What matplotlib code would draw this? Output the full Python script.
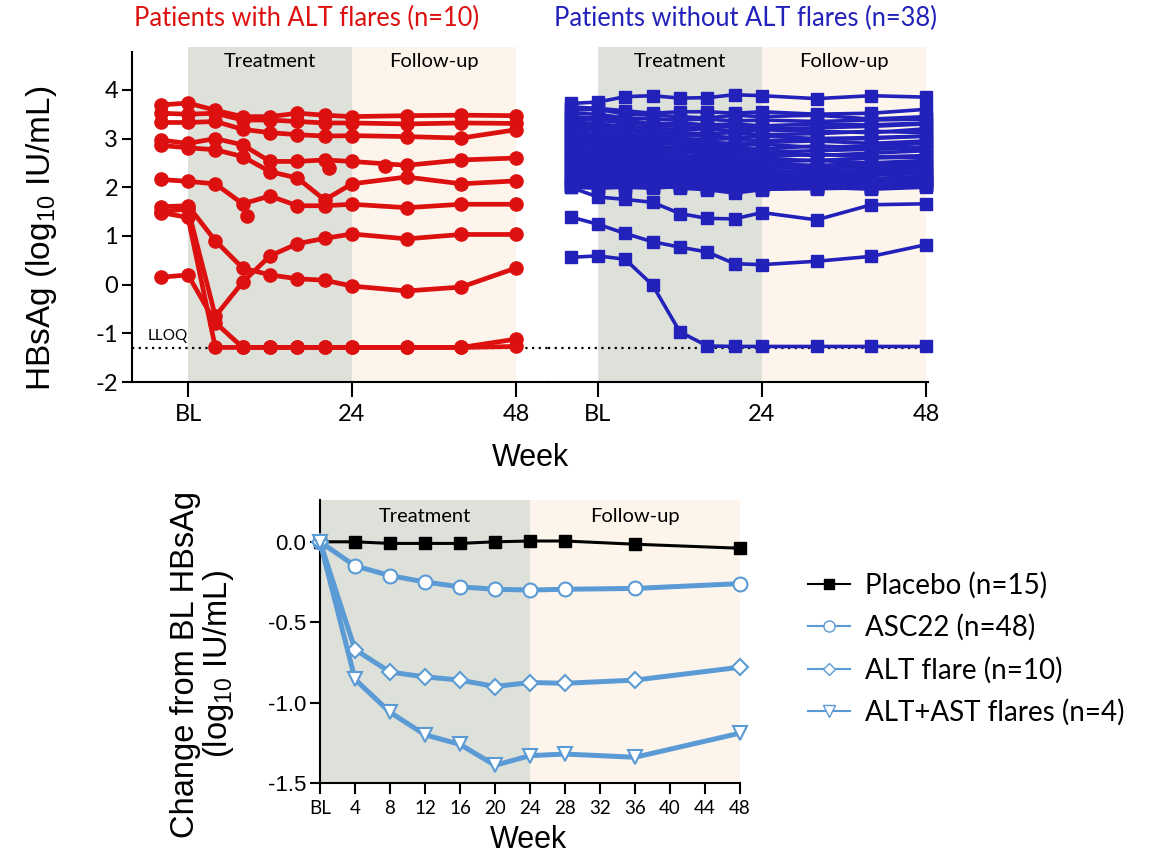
import matplotlib
matplotlib.use("Agg")
import matplotlib.pyplot as plt
from matplotlib.lines import Line2D

plt.rcParams['font.family'] = ['Lato', 'DejaVu Sans']
plt.rcParams['mathtext.fontset'] = 'custom'
plt.rcParams['mathtext.rm'] = 'Liberation Sans'
plt.rcParams['mathtext.it'] = 'Liberation Sans:italic'
plt.rcParams['axes.linewidth'] = 1.5
plt.rcParams['axes.unicode_minus'] = False

# ---- data: individual HBsAg (log10 IU/mL) ----
weeks = [-4, 0, 4, 8, 12, 16, 20, 24, 32, 40, 48]
week_ticks = [0, 24, 48]
week_tick_labels = ['BL', '24', '48']
lloq = -1.3

flare_patients = [
    [3.69, 3.73, 3.58, 3.45, 3.45, 3.52, 3.48, 3.45, 3.47, 3.48, 3.47],
    [3.52, 3.50, 3.52, 3.38, 3.38, 3.35, 3.32, 3.32, 3.30, 3.32, 3.31],
    [3.33, 3.33, 3.35, 3.19, 3.12, 3.08, 3.05, 3.06, 3.04, 3.01, 3.18],
    [2.97, 2.90, 3.00, 2.87, 2.53, 2.53, 2.56, 2.53, 2.45, 2.56, 2.60],
    [2.86, 2.81, 2.77, 2.63, 2.32, 2.19, 1.74, 2.07, 2.21, 2.07, 2.13],
    [2.16, 2.12, 2.07, 1.66, 1.82, 1.62, 1.62, 1.65, 1.58, 1.65, 1.65],
    [1.60, 1.62, 0.90, 0.34, 0.20, 0.12, 0.09, -0.03, -0.13, -0.05, 0.34],
    [1.50, 1.55, -0.65, 0.05, 0.59, 0.84, 0.95, 1.04, 0.94, 1.03, 1.03],
    [1.48, 1.38, -1.29, -1.29, -1.29, -1.29, -1.29, -1.29, -1.29, -1.29, -1.27],
    [0.15, 0.20, -0.78, -1.29, -1.29, -1.29, -1.29, -1.29, -1.29, -1.29, -1.12],
]
# unscheduled single visits
flare_extra_weeks = [8.7, 20.6, 28.8]
flare_extra_values = [1.41, 2.40, 2.43]

nonflare_patients = [
    [3.72, 3.75, 3.86, 3.88, 3.83, 3.84, 3.90, 3.88, 3.82, 3.88, 3.85],
    [3.65, 3.62, 3.57, 3.52, 3.55, 3.55, 3.52, 3.55, 3.50, 3.52, 3.60],
    [3.58, 3.60, 3.50, 3.48, 3.45, 3.42, 3.48, 3.45, 3.48, 3.40, 3.45],
    [3.52, 3.50, 3.42, 3.40, 3.38, 3.40, 3.36, 3.38, 3.35, 3.38, 3.40],
    [3.45, 3.42, 3.38, 3.30, 3.32, 3.28, 3.30, 3.26, 3.30, 3.28, 3.32],
    [3.40, 3.38, 3.32, 3.28, 3.25, 3.22, 3.25, 3.20, 3.22, 3.25, 3.30],
    [3.35, 3.30, 3.25, 3.22, 3.18, 3.20, 3.15, 3.18, 3.15, 3.12, 3.20],
    [3.30, 3.28, 3.20, 3.15, 3.12, 3.10, 3.12, 3.08, 3.10, 3.15, 3.12],
    [3.25, 3.22, 3.18, 3.10, 3.08, 3.05, 3.02, 3.05, 3.00, 3.02, 3.05],
    [3.20, 3.18, 3.10, 3.05, 3.00, 2.98, 3.00, 2.95, 2.98, 3.00, 3.05],
    [3.15, 3.10, 3.05, 3.00, 2.95, 2.92, 2.90, 2.92, 2.95, 2.90, 2.95],
    [3.10, 3.08, 3.00, 2.95, 2.90, 2.88, 2.85, 2.88, 2.82, 2.85, 2.90],
    [3.05, 3.02, 2.95, 2.90, 2.88, 2.82, 2.80, 2.78, 2.85, 2.80, 2.82],
    [3.00, 2.98, 2.92, 2.85, 2.80, 2.78, 2.75, 2.72, 2.75, 2.78, 2.80],
    [2.95, 2.92, 2.88, 2.80, 2.75, 2.72, 2.70, 2.70, 2.65, 2.70, 2.75],
    [2.90, 2.88, 2.82, 2.75, 2.72, 2.68, 2.65, 2.62, 2.68, 2.62, 2.65],
    [2.85, 2.82, 2.78, 2.70, 2.65, 2.62, 2.60, 2.58, 2.55, 2.60, 2.62],
    [2.80, 2.78, 2.72, 2.68, 2.62, 2.58, 2.55, 2.52, 2.55, 2.50, 2.55],
    [2.75, 2.72, 2.68, 2.62, 2.58, 2.52, 2.50, 2.48, 2.45, 2.48, 2.50],
    [2.70, 2.68, 2.62, 2.58, 2.52, 2.48, 2.45, 2.42, 2.40, 2.42, 2.45],
    [2.65, 2.62, 2.58, 2.52, 2.48, 2.45, 2.40, 2.38, 2.42, 2.38, 2.40],
    [2.60, 2.58, 2.52, 2.48, 2.42, 2.40, 2.38, 2.32, 2.35, 2.32, 2.38],
    [2.55, 2.52, 2.48, 2.42, 2.38, 2.35, 2.32, 2.30, 2.28, 2.30, 2.32],
    [2.50, 2.48, 2.42, 2.38, 2.35, 2.30, 2.28, 2.25, 2.22, 2.25, 2.28],
    [2.45, 2.42, 2.40, 2.35, 2.30, 2.28, 2.25, 2.22, 2.20, 2.18, 2.22],
    [2.40, 2.38, 2.35, 2.30, 2.28, 2.25, 2.22, 2.20, 2.18, 2.15, 2.20],
    [2.35, 2.32, 2.30, 2.28, 2.25, 2.20, 2.18, 2.15, 2.12, 2.10, 2.15],
    [2.30, 2.28, 2.25, 2.22, 2.20, 2.18, 2.15, 2.12, 2.10, 2.08, 2.12],
    [2.25, 2.22, 2.20, 2.18, 2.15, 2.12, 2.10, 2.08, 2.05, 2.05, 2.08],
    [2.20, 2.18, 2.15, 2.12, 2.10, 2.08, 2.05, 2.02, 2.02, 2.00, 2.05],
    [2.15, 2.12, 2.10, 2.08, 2.05, 2.02, 2.00, 2.00, 1.98, 1.98, 2.02],
    [2.10, 2.08, 2.05, 2.02, 2.00, 1.98, 1.95, 1.98, 2.00, 1.96, 2.00],
    [2.05, 2.02, 2.00, 1.98, 2.02, 2.00, 1.98, 2.02, 1.98, 2.00, 2.25],
    [2.00, 1.98, 2.00, 2.05, 1.98, 1.95, 1.88, 1.95, 2.00, 2.02, 2.05],
    [2.02, 2.00, 2.05, 2.00, 2.05, 1.98, 2.00, 1.96, 1.97, 1.99, 2.10],
    [2.00, 1.80, 1.75, 1.69, 1.46, 1.36, 1.35, 1.48, 1.33, 1.64, 1.66],
    [1.39, 1.24, 1.05, 0.88, 0.77, 0.67, 0.43, 0.41, 0.48, 0.58, 0.82],
    [0.56, 0.59, 0.52, -0.01, -0.97, -1.26, -1.27, -1.27, -1.27, -1.27, -1.27],
]

# ---- data: mean change from baseline ----
change_weeks = [0, 4, 8, 12, 16, 20, 24, 28, 36, 48]
change_ticks = [0, 4, 8, 12, 16, 20, 24, 28, 32, 36, 40, 44, 48]
change_tick_labels = ['BL'] + [str(w) for w in change_ticks[1:]]
placebo = [0, 0.0, -0.01, -0.01, -0.01, 0.0, 0.005, 0.005, -0.015, -0.04]
asc22 = [0, -0.15, -0.21, -0.25, -0.28, -0.295, -0.30, -0.295, -0.29, -0.26]
alt_flare = [0, -0.67, -0.81, -0.84, -0.86, -0.90, -0.875, -0.88, -0.86, -0.78]
alt_ast_flare = [0, -0.855, -1.06, -1.20, -1.26, -1.39, -1.33, -1.32, -1.34, -1.19]

red = '#dd1010'
blue = '#2222bb'
lblue = '#5b9bd5'
treat_col = '#dee0da'
follow_col = '#fdf5eb'
arial = 'Liberation Sans'

W, H = 1160, 855
fig = plt.figure(figsize=(W / 100, H / 100), dpi=100)

ax1 = fig.add_axes([132 / W, 1 - 382 / H, 416 / W, 335 / H])
ax2 = fig.add_axes([548 / W, 1 - 382 / H, 380 / W, 335 / H])
ax3 = fig.add_axes([320 / W, 1 - 783 / H, 420 / W, 283 / H])

for ax in (ax1, ax2):
    ax.patch.set_visible(False)
    ax.axvspan(0, 24, color=treat_col, lw=0, zorder=0)
    ax.axvspan(24, 48, color=follow_col, lw=0, zorder=0)
    ax.axhline(lloq, color='black', lw=1.6, ls=(0, (1, 2)), zorder=1)
    ax.set_ylim(-2, 4.88)
    ax.set_xticks(week_ticks)
    ax.set_xticklabels(week_tick_labels, fontsize=17)
    ax.tick_params(axis='x', length=11, width=1.5, pad=5)
    ax.text(12, 4.58, 'Treatment', ha='center', va='center', fontsize=14.5)
    ax.text(36, 4.58, 'Follow-up', ha='center', va='center', fontsize=14.5)
    for s in ('top', 'right'):
        ax.spines[s].set_visible(False)

ax1.set_xlim(-8.2, 52.7)
ax2.set_xlim(-7.3, 48.3)
ax1.set_yticks([-2, -1, 0, 1, 2, 3, 4])
ax1.tick_params(axis='y', length=7, width=1.5, pad=3, labelsize=17)
ax1.spines['left'].set_bounds(-2, 4.78)
ax2.spines['left'].set_visible(False)
ax2.set_yticks([])
ax1.text(-3.0, -1.06, 'LLOQ', ha='center', va='center', fontsize=11)

for p in flare_patients:
    ax1.plot(weeks, p, color=red, lw=3.4, marker='o', ms=9.5, zorder=3)
ax1.plot(flare_extra_weeks, flare_extra_values, ls='none', color=red,
         marker='o', ms=9.5, zorder=3)

for p in nonflare_patients:
    ax2.plot(weeks, p, color=blue, lw=2.6, marker='s', ms=8.8, zorder=3,
             clip_on=False)

fig.text(307 / W, 1 - 18 / H, 'Patients with ALT flares (n=10)', color=red,
         ha='center', va='center', fontsize=18.4)
fig.text(746 / W, 1 - 18 / H, 'Patients without ALT flares (n=38)', color=blue,
         ha='center', va='center', fontsize=18.4)
fig.text(42 / W, 1 - 238 / H, r'HBsAg (log$_{10}$ IU/mL)', rotation=90,
         ha='center', va='center', fontsize=24, family=arial)
fig.text(530 / W, 1 - 458 / H, 'Week', ha='center', va='center',
         fontsize=22, family=arial)

# ---- bottom panel ----
ax3.axvspan(0, 24, color=treat_col, lw=0, zorder=0)
ax3.axvspan(24, 48, color=follow_col, lw=0, zorder=0)
ax3.set_xlim(0, 48)
ax3.set_ylim(-1.5, 0.26)
for s in ('top', 'right'):
    ax3.spines[s].set_visible(False)
ax3.set_xticks(change_ticks)
ax3.set_xticklabels(change_tick_labels, fontsize=13.5)
ax3.set_yticks([0, -0.5, -1.0, -1.5])
ax3.set_yticklabels(['0.0', '-0.5', '-1.0', '-1.5'], fontsize=16, family=arial)
ax3.tick_params(axis='x', length=8, width=1.5, pad=4)
ax3.tick_params(axis='y', length=7, width=1.5, pad=3)
ax3.text(12, 0.16, 'Treatment', ha='center', va='center', fontsize=14.5)
ax3.text(36, 0.155, 'Follow-up', ha='center', va='center', fontsize=14.5)

ax3.plot(change_weeks, placebo, color='black', lw=2.2, marker='s', ms=9,
         clip_on=False, zorder=3)
ax3.plot(change_weeks, asc22, color=lblue, lw=3.6, marker='o', ms=10,
         mfc='white', mew=1.5, clip_on=False, zorder=4)
ax3.plot(change_weeks, alt_flare, color=lblue, lw=3.6, marker='D', ms=8.5,
         mfc='white', mew=1.5, clip_on=False, zorder=4)
ax3.plot(change_weeks, alt_ast_flare, color=lblue, lw=3.6, marker='v', ms=10,
         mfc='white', mew=1.5, clip_on=False, zorder=4)

fig.text(203 / W, 1 - 664 / H, 'Change from BL HBsAg\n(log$_{10}$ IU/mL)',
         rotation=90, ha='center', va='center', multialignment='center',
         fontsize=23.5, family=arial, linespacing=0.97)
fig.text(528 / W, 1 - 840 / H, 'Week', ha='center', va='center',
         fontsize=22, family=arial)

handles = [
    Line2D([0], [0], color='black', lw=1.5, marker='s', ms=7),
    Line2D([0], [0], color=lblue, lw=1.5, marker='o', ms=8, mfc='white'),
    Line2D([0], [0], color=lblue, lw=1.5, marker='D', ms=6.5, mfc='white'),
    Line2D([0], [0], color=lblue, lw=1.5, marker='v', ms=8, mfc='white'),
]
labels = ['Placebo (n=15)', 'ASC22 (n=48)', 'ALT flare (n=10)',
          'ALT+AST flares (n=4)']
fig.legend(handles, labels, loc='upper left',
           bbox_to_anchor=(797 / W, 1 - 561 / H), frameon=False,
           fontsize=20, handlelength=1.5, handletextpad=0.55,
           labelspacing=0.55, borderaxespad=0)

fig.savefig('out.png', dpi=100)
